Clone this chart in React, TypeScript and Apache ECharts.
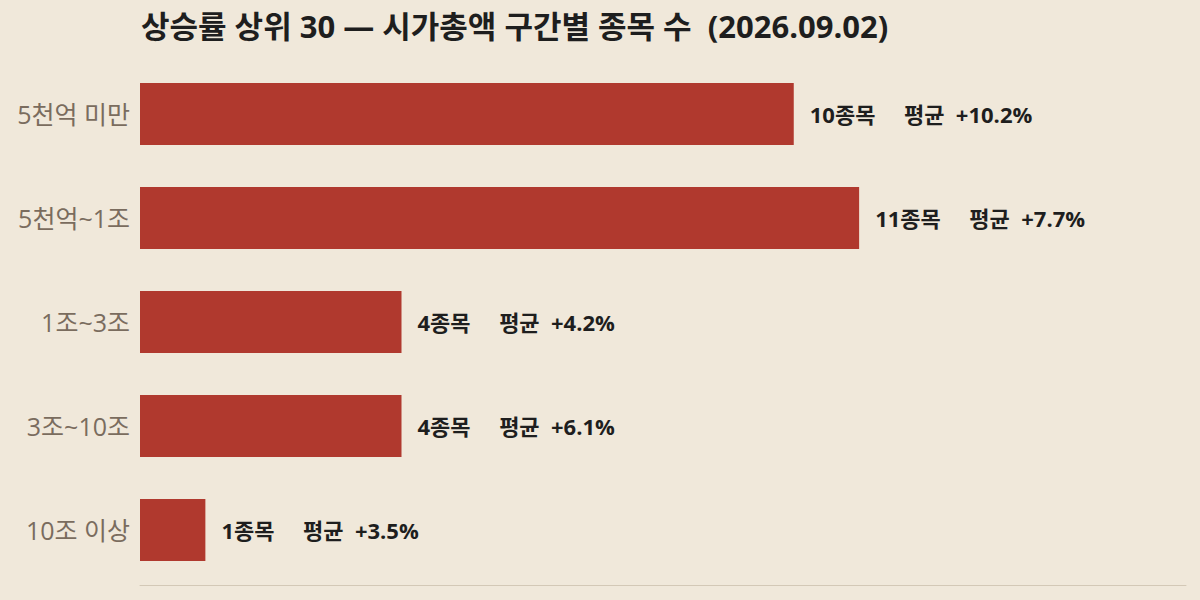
import * as echarts from 'echarts';
import { useEffect, useRef } from 'react';

const categories = ['5천억 미만', '5천억~1조', '1조~3조', '3조~10조', '10조 이상'];
const counts = [10, 11, 4, 4, 1];
const averages = [10.2, 7.7, 4.2, 6.1, 3.5];

const font = '"Open Sans", "Noto Sans CJK KR", sans-serif';

function buildOption() {
  return {
    animation: false,
    backgroundColor: '#f0e8da',
    title: {
      text: '상승률 상위 30 — 시가총액 구간별 종목 수  (2026.09.02)',
      left: 136,
      top: 5,
      textStyle: { fontFamily: font, fontSize: 31, fontWeight: 'bold', color: '#1e1e1e' },
    },
    grid: { left: 140, right: 14, top: 62, bottom: 18 },
    xAxis: {
      type: 'value',
      min: 0,
      max: 16,
      offset: 3,
      axisLine: { show: true, lineStyle: { color: '#d3c8b6', width: 1 } },
      axisTick: { show: false },
      axisLabel: { show: false },
      splitLine: { show: false },
    },
    yAxis: {
      type: 'category',
      inverse: true,
      data: categories,
      axisLine: { show: false },
      axisTick: { show: false },
      axisLabel: { fontFamily: font, fontSize: 25, color: '#7a6c5e', margin: 10 },
    },
    series: [
      {
        type: 'bar',
        barWidth: 62,
        itemStyle: { color: '#b0392e' },
        label: {
          show: true,
          position: 'right',
          distance: 16,
          fontFamily: font,
          fontSize: 22,
          fontWeight: 'bold',
          color: '#1e1e1e',
          formatter: (p: { dataIndex: number }) =>
            `${counts[p.dataIndex]}종목     평균  +${averages[p.dataIndex].toFixed(1)}%`,
        },
        data: counts,
      },
    ],
  };
}

export default function App() {
  const ref = useRef<HTMLDivElement | null>(null);

  useEffect(() => {
    if (!ref.current) return;
    const chart = echarts.init(ref.current, undefined, { renderer: 'svg' });
    chart.setOption(buildOption());
    return () => chart.dispose();
  }, []);

  return <div ref={ref} style={{ width: 1200, height: 600, position: 'fixed', left: 0, top: 0 }} />;
}
